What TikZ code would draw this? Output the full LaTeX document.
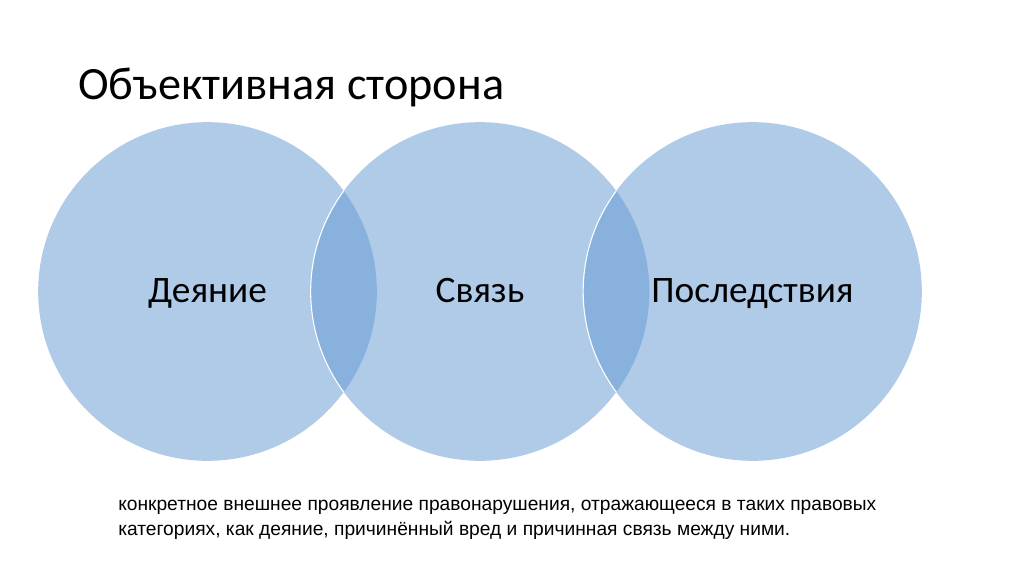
\documentclass[tikz,border=0pt]{standalone}
\usepackage{fontspec}
\setmainfont{Carlito}
\newfontfamily\arialfont{Liberation Sans}
\usepackage{tikz}
\usepackage{xcolor}
\definecolor{krugblau}{RGB}{101,155,211}
\tikzset{
Krug/.style={
 circle,
 fill=krugblau,
 fill opacity=0.52,
 text opacity=1,
 draw=none,
 minimum size=254pt,
 inner sep=0pt,
 text height=19.6pt,
 text depth=2.4pt,
 font=\fontsize{28}{33}\selectfont
 },
Bord/.style={
 draw=white,
 line width=0.8pt
 },
Titre/.style={
 anchor=base west,
 inner sep=0pt,
 font=\fontsize{34.7}{42}\selectfont
 },
Texte/.style={
 anchor=base west,
 align=left,
 inner sep=0pt,
 font=\arialfont\fontsize{14.4}{18.75}\selectfont
 }
}
\begin{document}
\begin{tikzpicture}[x=0.75pt,y=-0.75pt]
\useasboundingbox (0,0) rectangle (1024,574);
\node[Titre] (titre) at (78,100) {Объективная сторона};
\node[Krug] (deyanie) at (207.5,291.5) {Деяние};
\node[Krug] (svyaz) at (480,291.5) {Связь};
\node[Krug] (posledstviya) at (752.5,291.5) {Последствия};
% contours blancs dans les intersections
\begin{scope}
\clip (deyanie.center) circle (127pt);
\draw[Bord] (svyaz.center) circle (127pt);
\end{scope}
\begin{scope}
\clip (svyaz.center) circle (127pt);
\draw[Bord] (posledstviya.center) circle (127pt);
\end{scope}
\node[Texte] (opisanie) at (118,535) {конкретное внешнее проявление правонарушения, отражающееся в таких правовых\\категориях, как деяние, причинённый вред и причинная связь между ними.};
\end{tikzpicture}
\end{document}
